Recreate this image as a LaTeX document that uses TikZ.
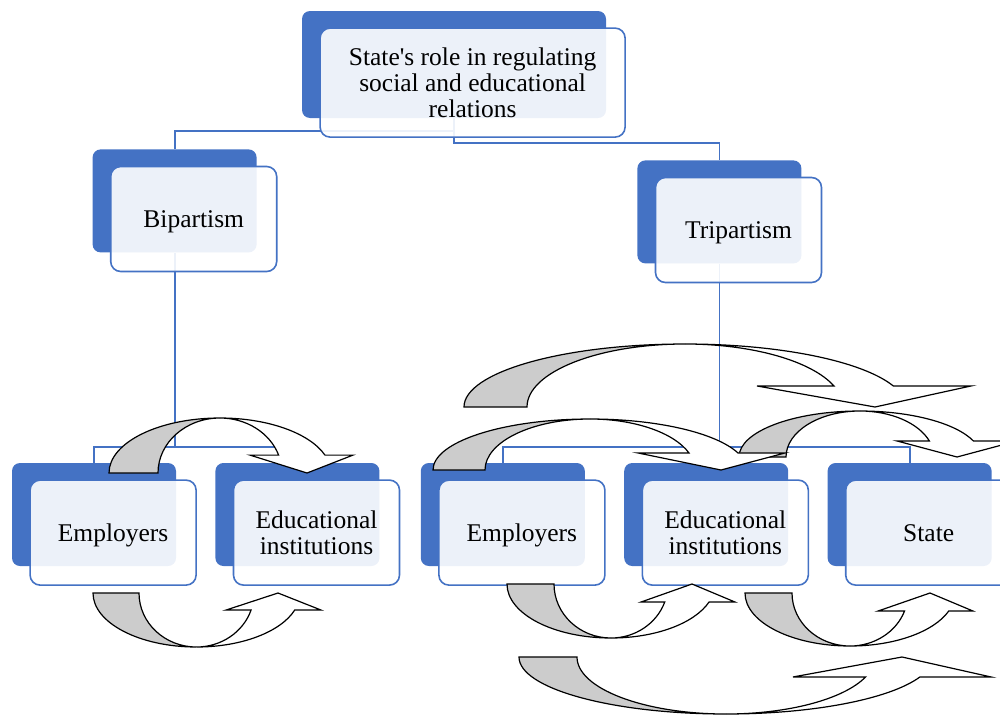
\documentclass[tikz,border=0pt]{standalone}
\usepackage{fontspec}
\setmainfont{Liberation Serif}[Ligatures=TeXOff]
\usetikzlibrary{positioning,backgrounds}
\definecolor{boxblue}{HTML}{4472C4}
\tikzset{backbox/.style={rectangle,rounded corners=8pt,fill=boxblue,minimum width=164pt,minimum height=103pt,inner sep=0pt}}
\tikzset{frontbox/.style={rectangle,rounded corners=10pt,draw=boxblue,line width=1.6pt,fill=white,fill opacity=0.9,text opacity=1,minimum width=166pt,minimum height=105pt,inner sep=0pt,text depth=0pt,align=center,font=\fontsize{25.5}{26}\selectfont}}
\tikzset{link/.style={draw=boxblue,line width=1.8pt}}
\tikzset{bandback/.style={draw=black,fill=black!20,line width=1.2pt}}
\tikzset{bandfront/.style={draw=black,fill=white,line width=1.2pt}}
% curved band arrows: centre x, base y, height, outer radius, inner radius, neck angle, left barb, right barb, tip x
\newcommand{\bandover}[9]{%
  \filldraw[bandback] (#1-#4,-#2) arc[start angle=180,end angle=90,x radius=#4,y radius=#3]
    arc[start angle=90,end angle=180,x radius=#5,y radius=#3] -- cycle;
  \filldraw[bandfront] (#1,#3-#2) arc[start angle=90,end angle=#6,x radius=#4,y radius=#3]
    -- (#8,{#3*sin(#6)-#2}) -- (#9,-#2) -- (#7,{#3*sin(#6)-#2})
    -- ({#1+#5*cos(#6)},{#3*sin(#6)-#2}) arc[start angle=#6,end angle=90,x radius=#5,y radius=#3] -- cycle;
}
\newcommand{\bandunder}[9]{%
  \filldraw[bandback] (#1-#4,-#2) arc[start angle=180,end angle=270,x radius=#4,y radius=#3]
    arc[start angle=270,end angle=180,x radius=#5,y radius=#3] -- cycle;
  \filldraw[bandfront] (#1,-#2-#3) arc[start angle=270,end angle=360-#6,x radius=#4,y radius=#3]
    -- (#8,{-#2-#3*sin(#6)}) -- (#9,-#2) -- (#7,{-#2-#3*sin(#6)})
    -- ({#1+#5*cos(#6)},{-#2-#3*sin(#6)}) arc[start angle=-#6,end angle=-90,x radius=#5,y radius=#3] -- cycle;
}

\begin{document}
\begin{tikzpicture}[x=1pt,y=1pt]
\useasboundingbox (0,0) rectangle (1000,-715);
% boxes
\node (topB) [backbox, minimum width=304pt, minimum height=107pt] at (454,-64.5) {};
\node (top) [frontbox, minimum width=305pt, minimum height=109pt, below right=16.5pt and 17.5pt of topB.north west] {State's role in regulating\\social and educational\\relations};
\node (bipB) [backbox, below left=31pt and 45pt of topB] {};
\node (bip) [frontbox, below right=16.5pt and 17.5pt of bipB.north west] {Bipartism};
\node (tripB) [backbox, below right=42pt and 31pt of topB] {};
\node (trip) [frontbox, below right=16.5pt and 17.5pt of tripB.north west] {Tripartism};
\node (emp1B) [backbox] at (94,-514.5) {};
\node (emp1) [frontbox, below right=16.5pt and 17.5pt of emp1B.north west] {Employers};
\node (edu1B) [backbox, right=39pt of emp1B] {};
\node (edu1) [frontbox, below right=16.5pt and 17.5pt of edu1B.north west] {Educational\\institutions};
\node (emp2B) [backbox, right=41pt of edu1B] {};
\node (emp2) [frontbox, below right=16.5pt and 17.5pt of emp2B.north west] {Employers};
\node (edu2B) [backbox, right=39pt of emp2B] {};
\node (edu2) [frontbox, below right=16.5pt and 17.5pt of edu2B.north west] {Educational\\institutions};
\node (stateB) [backbox, right=39pt of edu2B] {};
\node (state) [frontbox, below right=16.5pt and 17.5pt of stateB.north west] {State};
% tree lines
\begin{scope}[on background layer]
	\draw[link] (topB.south) -- ++(0,-13) -| (bipB.north);
	\draw[link] (topB.south) -- ++(0,-25) -| (tripB.north);
	\draw[link] (bipB.south) -- ++(0,-194) -| (emp1B.north);
	\draw[link] (bipB.south) -- ++(0,-194) -| (edu1B.north);
	\draw[link] (tripB.south) -- ++(0,-183) -| (emp2B.north);
	\draw[link] (tripB.south) -- ++(0,-183) -| (edu2B.north);
	\draw[link] (tripB.south) -- ++(0,-183) -| (stateB.north);
\end{scope}
% arrows
\bandover{220}{473}{55}{111}{62}{19}{250}{353}{307}
\bandunder{196.5}{593}{54}{103.5}{57.5}{18.4}{226}{321}{278}
\bandover{860}{457}{46}{121}{74}{20.4}{897}{1017}{957}
\bandover{590}{470}{51}{157}{105}{19.5}{638}{785}{721}
\bandover{685}{407}{63}{221}{158}{19.5}{757}{971}{875}
\bandunder{611}{584}{54}{104}{57}{19.5}{641}{735}{692}
\bandunder{850}{593}{53}{105}{58}{19.9}{878}{973}{930}
\bandunder{726}{657}{57}{207}{149}{20.5}{793}{991}{902}
\end{tikzpicture}
\end{document}
